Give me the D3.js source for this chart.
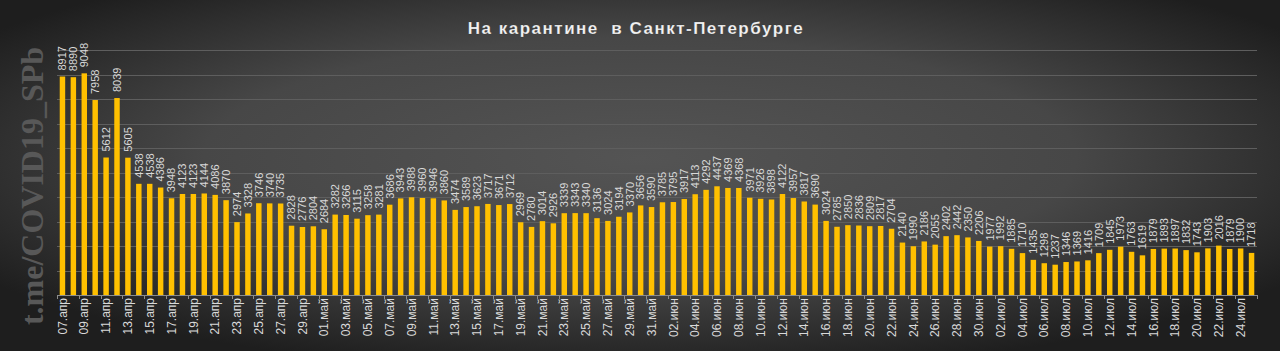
<!DOCTYPE html>
<html>
<head>
<meta charset="utf-8">
<script src="https://cdn.jsdelivr.net/npm/d3@7"></script>
<style>
  html, body { margin: 0; padding: 0; background: #2a2a2a; }
  svg { display: block; }
</style>
</head>
<body>
<svg id="chart" width="1280" height="351"></svg>
<script>
// quarantine counts, one per day starting 07.04
const startDay = '2020-04-07';
const monthShort = ['янв', 'фев', 'мар', 'апр', 'май', 'июн', 'июл', 'авг', 'сен', 'окт', 'ноя', 'дек'];
const values = [
  8917, 8890, 9048, 7958, 5612, 8039, 5605, 4538, 4538, 4386,
  3948, 4123, 4123, 4144, 4086, 3870, 2974, 3328, 3746, 3740,
  3735, 2828, 2776, 2804, 2684, 3282, 3266, 3115, 3258, 3281,
  3686, 3943, 3988, 3960, 3946, 3860, 3474, 3589, 3623, 3717,
  3671, 3712, 2969, 2780, 3014, 2926, 3339, 3343, 3340, 3136,
  3024, 3194, 3370, 3656, 3590, 3785, 3795, 3917, 4113, 4292,
  4437, 4369, 4368, 3971, 3926, 3898, 4122, 3957, 3817, 3690,
  3024, 2785, 2850, 2836, 2809, 2817, 2704, 2140, 1990, 2186,
  2055, 2402, 2442, 2350, 2206, 1977, 1992, 1885, 1710, 1435,
  1298, 1237, 1346, 1369, 1416, 1709, 1845, 1973, 1763, 1619,
  1879, 1893, 1897, 1832, 1743, 1903, 2016, 1879, 1900, 1718
];
const gridTicks = [1000, 2000, 3000, 4000, 5000, 6000, 7000, 8000, 9000, 10000];
const title = 'На карантине  в Санкт-Петербурге';
const watermark = 't.me/COVID19_SPb';

const fmt = d3.timeFormat('%d');
const t0 = d3.timeParse('%Y-%m-%d')(startDay);
const dates = values.map((v, i) => {
  const d = d3.timeDay.offset(t0, i);
  return fmt(d) + '.' + monthShort[d.getMonth()];
});
const data = values.map((v, i) => ({ date: dates[i], value: v }));

const W = 1280, H = 351;
const m = { left: 57, right: 1257, top: 50, bottom: 295 };

const svg = d3.select('#chart');
const defs = svg.append('defs');

const bg = defs.append('radialGradient').attr('id', 'bg')
  .attr('cx', '0.5').attr('cy', '0.45').attr('r', '0.62');
bg.append('stop').attr('offset', '0').attr('stop-color', '#545454');
bg.append('stop').attr('offset', '0.55').attr('stop-color', '#474747');
bg.append('stop').attr('offset', '1').attr('stop-color', '#1e1e1e');

svg.append('rect').attr('width', W).attr('height', H).attr('fill', 'url(#bg)');

const x = d3.scaleBand()
  .domain(dates)
  .range([m.left, m.right])
  .paddingInner(0.5)
  .paddingOuter(0.25);

const y = d3.scaleLinear()
  .domain([0, 10000])
  .range([m.bottom, m.top]);

// gridlines
svg.append('g')
  .selectAll('line')
  .data(gridTicks)
  .join('line')
  .attr('x1', m.left)
  .attr('x2', m.right)
  .attr('y1', d => Math.round(y(d)) + 0.5)
  .attr('y2', d => Math.round(y(d)) + 0.5)
  .attr('stroke', '#5e5e5e')
  .attr('stroke-width', 1);

// watermark
svg.append('text')
  .attr('transform', 'translate(43,186) rotate(-90)')
  .attr('text-anchor', 'middle')
  .attr('font-family', '"Liberation Serif", "DejaVu Serif", serif')
  .attr('font-weight', 'bold')
  .attr('font-size', 32)
  .attr('fill', '#585858')
  .text(watermark);

// bars
svg.append('g')
  .selectAll('rect')
  .data(data)
  .join('rect')
  .attr('x', d => x(d.date))
  .attr('y', d => y(d.value))
  .attr('width', x.bandwidth())
  .attr('height', d => y(0) - y(d.value))
  .attr('fill', '#ffc000');

// value labels
svg.append('g')
  .selectAll('text')
  .data(data)
  .join('text')
  .attr('transform', d => `translate(${x(d.date) + x.bandwidth() / 2},${y(d.value) - 6}) rotate(-90)`)
  .attr('dy', '0.35em')
  .attr('font-family', '"Liberation Sans", Arial, sans-serif')
  .attr('font-size', 11)
  .attr('fill', '#d9d9d9')
  .text(d => d.value);

// x axis
const axis = svg.append('g')
  .attr('transform', `translate(0,${m.bottom})`)
  .call(d3.axisBottom(x)
    .tickValues(dates.filter((d, i) => i % 2 === 0))
    .tickSize(0)
    .tickSizeOuter(0));
axis.select('.domain').attr('stroke', '#8c8c8c').attr('d', `M${m.left},0.5H${m.right}`);
axis.selectAll('text')
  .attr('transform', 'rotate(-90)')
  .attr('x', -3)
  .attr('y', 0)
  .attr('dy', '0.35em')
  .attr('text-anchor', 'end')
  .attr('font-family', '"Liberation Sans", Arial, sans-serif')
  .attr('font-size', 12)
  .attr('fill', '#d9d9d9');

// tick marks between every second pair of categories
const tickXs = dates.filter((d, i) => i % 2 === 0).map(d => x(d) - x.step() * 0.25);
tickXs.push(m.right);
svg.append('g')
  .selectAll('line')
  .data(tickXs)
  .join('line')
  .attr('x1', d => Math.round(d) + 0.5)
  .attr('x2', d => Math.round(d) + 0.5)
  .attr('y1', m.bottom)
  .attr('y2', m.bottom + 4)
  .attr('stroke', '#8c8c8c');

// title
svg.append('text')
  .attr('x', 636)
  .attr('y', 34)
  .attr('text-anchor', 'middle')
  .style('white-space', 'pre')
  .attr('font-family', '"Liberation Sans", Arial, sans-serif')
  .attr('font-weight', 'bold')
  .attr('font-size', 17)
  .attr('letter-spacing', 1.5)
  .attr('fill', '#f2f2f2')
  .attr('stroke', '#000')
  .attr('stroke-opacity', 0.25)
  .attr('stroke-width', 0.4)
  .text(title);
</script>
</body>
</html>
